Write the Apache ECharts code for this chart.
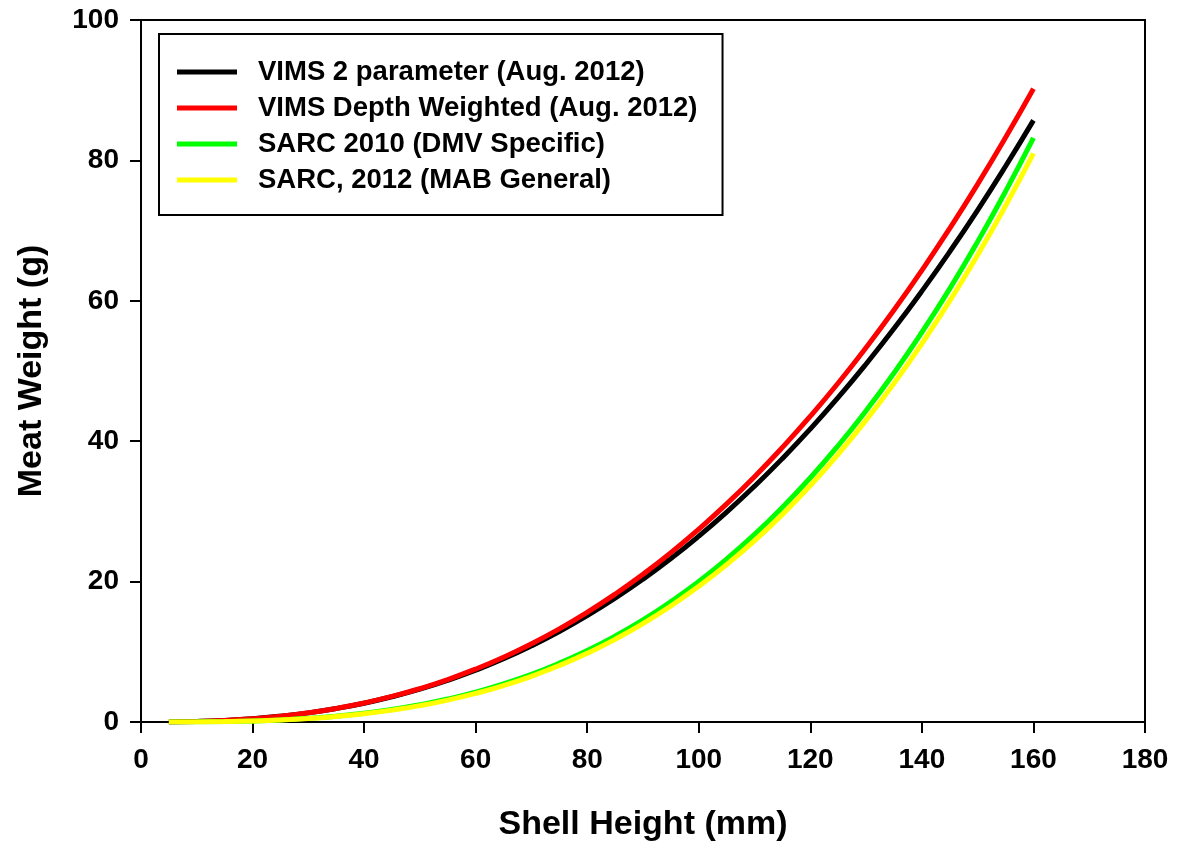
<!DOCTYPE html>
<html>
<head>
<meta charset="utf-8">
<script src="https://cdn.jsdelivr.net/npm/echarts@6/dist/echarts.min.js"></script>
<style>
html,body{margin:0;padding:0;background:#fff;}
#chart{width:1177px;height:843px;}
</style>
</head>
<body>
<div id="chart"></div>
<script>
const shellHeight = [5,10,15,20,25,30,35,40,45,50,55,60,65,70,75,80,85,90,95,100,105,110,115,120,125,130,135,140,145,150,155,160];
const vims2Param = [0.015,0.084,0.23,0.47,0.83,1.30,1.92,2.68,3.60,4.68,5.94,7.38,9.01,10.85,12.89,15.15,17.63,20.34,23.28,26.47,29.90,33.59,37.54,41.75,46.23,51.00,56.04,61.38,67.01,72.93,79.17,85.7];
const vimsDepthWeighted = [0.014,0.081,0.23,0.47,0.82,1.31,1.93,2.70,3.64,4.76,6.05,7.54,9.23,11.14,13.26,15.62,18.21,21.04,24.12,27.47,31.07,34.95,39.12,43.56,48.29,53.34,58.68,64.34,70.32,76.62,83.25,90.2];
const sarc2010 = [0.002,0.019,0.064,0.15,0.30,0.52,0.83,1.25,1.78,2.45,3.27,4.26,5.43,6.79,8.38,10.19,12.24,14.55,17.15,20.03,23.22,26.73,30.59,34.79,39.38,44.35,49.72,55.52,61.74,68.43,75.58,83.2];
const sarc2012 = [0.002,0.017,0.059,0.14,0.28,0.49,0.79,1.18,1.69,2.33,3.12,4.07,5.19,6.51,8.04,9.79,11.77,14.01,16.52,19.32,22.41,25.83,29.58,33.68,38.15,43.00,48.24,53.91,60.00,66.53,73.53,81.0];
const seriesNames = ['VIMS 2 parameter (Aug. 2012)','VIMS Depth Weighted (Aug. 2012)','SARC 2010 (DMV Specific)','SARC, 2012 (MAB General)'];
const seriesValues = [vims2Param, vimsDepthWeighted, sarc2010, sarc2012];
const seriesColors = ['#000000','#ff0000','#00ff00','#ffff00'];
const xTicks = {min:0, max:180, interval:20};
const yTicks = {min:0, max:100, interval:20};

const FONT = '"Liberation Sans", Arial, sans-serif';
const chart = echarts.init(document.getElementById('chart'));
const series = seriesNames.map((name, i) => ({
  name: name,
  type: 'line',
  smooth: true,
  showSymbol: false,
  symbol: 'none',
  lineStyle: {color: seriesColors[i], width: 5},
  itemStyle: {color: seriesColors[i]},
  data: shellHeight.map((x, j) => [x, seriesValues[i][j]])
}));
chart.setOption({
  animation: false,
  backgroundColor: '#fff',
  grid: {left: 141, right: 32, top: 20, bottom: 121, containLabel: false, outerBoundsMode: 'none', show: true, borderColor: '#000', borderWidth: 2, backgroundColor: 'transparent'},
  legend: {
    orient: 'vertical',
    left: 159, top: 34,
    backgroundColor: '#fff',
    borderColor: '#000', borderWidth: 2,
    padding: [22, 25, 19, 18],
    icon: 'rect',
    itemWidth: 60, itemHeight: 5, itemGap: 4,
    data: seriesNames,
    textStyle: {fontFamily: FONT, fontWeight: 'bold', fontSize: 27.5, color: '#000', lineHeight: 32, padding: [0,0,0,16]}
  },
  xAxis: {
    type: 'value', min: xTicks.min, max: xTicks.max, interval: xTicks.interval,
    name: 'Shell Height (mm)', nameLocation: 'middle', nameGap: 86,
    nameTextStyle: {fontFamily: FONT, fontWeight: 'bold', fontSize: 34, color: '#000'},
    axisLine: {show: true, lineStyle: {color: '#000', width: 2}},
    axisTick: {show: true, inside: false, length: 11, lineStyle: {color: '#000', width: 2}},
    axisLabel: {fontFamily: FONT, fontWeight: 'bold', fontSize: 28, color: '#000', margin: 24},
    splitLine: {show: false}
  },
  yAxis: {
    type: 'value', min: yTicks.min, max: yTicks.max, interval: yTicks.interval,
    name: 'Meat Weight (g)', nameLocation: 'middle', nameGap: 92,
    nameTextStyle: {fontFamily: FONT, fontWeight: 'bold', fontSize: 34, color: '#000'},
    axisLine: {show: true, lineStyle: {color: '#000', width: 2}},
    axisTick: {show: true, inside: false, length: 11, lineStyle: {color: '#000', width: 2}},
    axisLabel: {fontFamily: FONT, fontWeight: 'bold', fontSize: 28, color: '#000', margin: 22},
    splitLine: {show: false}
  },
  series: series
});
</script>
</body>
</html>
